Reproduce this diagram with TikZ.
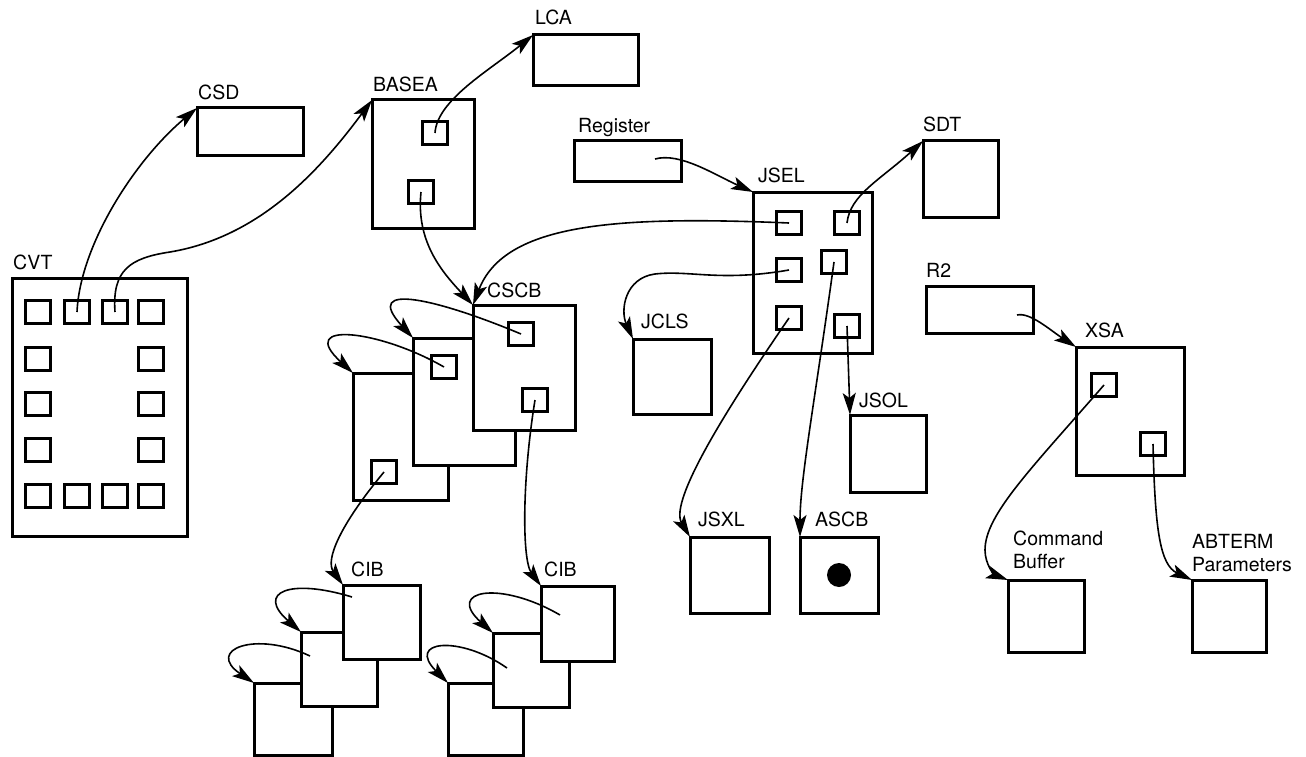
\documentclass[tikz,border=0pt]{standalone}
\usepackage{fontspec}
\setmainfont{TeX Gyre Heros}
\usepackage{tikz}
\usetikzlibrary{arrows.meta,positioning}

\begin{document}
\begin{tikzpicture}[x=1pt, y=-1pt, every node/.style={font=\fontsize{19.5}{23}\selectfont}]
\tikzset{blk/.style={draw, line width=3pt, fill=white, inner sep=0pt, outer sep=0pt, anchor=north west}}
\tikzset{slot/.style={draw, line width=2.7pt, fill=white, inner sep=0pt, outer sep=0pt, minimum width=25pt, minimum height=23pt}}
\tikzset{tag/.style={inner sep=0pt, text depth=0pt, align=left}}
\tikzset{ptr/.style={line width=1.6pt, -{Stealth[length=22pt, width=13pt, inset=5pt]}}}
\useasboundingbox (0,0) rectangle (1306,757);
% CVT
\node[blk, minimum width=175pt, minimum height=258pt] (cvt) at (12,278) {};
\node[tag, above right=8pt and 1pt of cvt.north west] (cvt-t) {CVT};
\node[slot] (cvt-1) at (38,312) {};
\node[slot] (cvt-2) at (77,312) {};
\node[slot] (cvt-3) at (115,312) {};
\node[slot] (cvt-4) at (151,312) {};
\node[slot] (cvt-5) at (38,359) {};
\node[slot] (cvt-6) at (151,359) {};
\node[slot] (cvt-7) at (38,404) {};
\node[slot] (cvt-8) at (151,404) {};
\node[slot] (cvt-9) at (38,450) {};
\node[slot] (cvt-10) at (151,450) {};
\node[slot] (cvt-11) at (38,496) {};
\node[slot] (cvt-12) at (77,496) {};
\node[slot] (cvt-13) at (115,496) {};
\node[slot] (cvt-14) at (151,496) {};
% top row
\node[blk, minimum width=106pt, minimum height=47pt] (csd) at (197,108) {};
\node[tag, above right=8pt and 1pt of csd.north west] (csd-t) {CSD};
\node[blk, minimum width=102pt, minimum height=128pt] (basea) at (372,100) {};
\node[tag, above right=8pt and 1pt of basea.north west] (basea-t) {BASEA};
\node[slot] (basea-1) at (435,133) {};
\node[slot] (basea-2) at (421,192) {};
\node[blk, minimum width=105pt, minimum height=51pt] (lca) at (533,35) {};
\node[tag, above right=10pt and 2pt of lca.north west] (lca-t) {LCA};
\node[blk, minimum width=107pt, minimum height=40pt] (reg) at (574,141) {};
\node[tag, above right=8pt and 4pt of reg.north west] (reg-t) {Register};
\coordinate (reg-p) at (655,159);
\node[blk, minimum width=75pt, minimum height=76pt] (sdt) at (923,141) {};
\node[tag, above right=9pt and 0pt of sdt.north west] (sdt-t) {SDT};
% JSEL
\node[blk, minimum width=119pt, minimum height=161pt] (jsel) at (753,192) {};
\node[tag, above right=9pt and 5pt of jsel.north west] (jsel-t) {JSEL};
\node[slot] (jsel-1) at (789,223) {};
\node[slot] (jsel-2) at (847,223) {};
\node[slot] (jsel-3) at (789,270) {};
\node[slot] (jsel-4) at (834,262) {};
\node[slot] (jsel-5) at (789,318) {};
\node[slot] (jsel-6) at (847,326) {};
\node[blk, minimum width=78pt, minimum height=75pt] (jcls) at (633,339) {};
\node[tag, above right=10pt and 8pt of jcls.north west] (jcls-t) {JCLS};
\node[blk, minimum width=76pt, minimum height=77pt] (jsol) at (850,415) {};
\node[tag, above right=7pt and 9pt of jsol.north west] (jsol-t) {JSOL};
\node[blk, minimum width=79pt, minimum height=76pt] (jsxl) at (690,537) {};
\node[tag, above right=10pt and 8pt of jsxl.north west] (jsxl-t) {JSXL};
\node[blk, minimum width=78pt, minimum height=76pt] (ascb) at (800,537) {};
\node[tag, above right=10pt and 15pt of ascb.north west] (ascb-t) {ASCB};
\node[fill, circle, inner sep=0pt, minimum size=24pt] (ascb-d) at (ascb.center) {};
% R2 / XSA
\node[blk, minimum width=107pt, minimum height=47pt] (r2) at (926,286) {};
\node[tag, above right=8pt and 0pt of r2.north west] (r2-t) {R2};
\coordinate (r2-p) at (1017,315);
\node[blk, minimum width=108pt, minimum height=128pt] (xsa) at (1076,347) {};
\node[tag, above right=9pt and 9pt of xsa.north west] (xsa-t) {XSA};
\node[slot] (xsa-1) at (1104,385) {};
\node[slot] (xsa-2) at (1153,444) {};
\node[blk, minimum width=76pt, minimum height=72pt] (cmd) at (1008,580) {};
\node[tag, above right=11pt and 5pt of cmd.north west] (cmd-t) {Command\\Buffer};
\node[blk, minimum width=74pt, minimum height=72pt] (abt) at (1192,580) {};
\node[tag, above right=8pt and 0pt of abt.north west] (abt-t) {ABTERM\\Parameters};
% CSCB stack
\node[blk, minimum width=95pt, minimum height=127pt] (cscb-c) at (353,373) {};
\node[slot] (cscb-c1) at (384,472) {};
\node[blk, minimum width=102pt, minimum height=127pt] (cscb-b) at (413,338) {};
\node[slot] (cscb-b1) at (444,367) {};
\node[blk, minimum width=102pt, minimum height=125pt] (cscb) at (473,305) {};
\node[tag, above right=7pt and 14pt of cscb.north west] (cscb-t) {CSCB};
\node[slot] (cscb-1) at (521,334) {};
\node[slot] (cscb-2) at (535,400) {};
% CIB stacks
\node[blk, minimum width=78pt, minimum height=72pt] (cibl-3) at (254,683) {};
\node[blk, minimum width=76pt, minimum height=74pt] (cibl-2) at (301,632) {};
\node[blk, minimum width=77pt, minimum height=74pt] (cibl-1) at (343,585) {};
\node[tag, above right=8pt and 8pt of cibl-1.north west] (cibl-t) {CIB};
\coordinate (cibl-p1) at (352,597);
\coordinate (cibl-p2) at (310,656);
\node[blk, minimum width=75pt, minimum height=72pt] (cibr-3) at (448,683) {};
\node[blk, minimum width=76pt, minimum height=74pt] (cibr-2) at (493,633) {};
\node[blk, minimum width=73pt, minimum height=75pt] (cibr-1) at (541,586) {};
\node[tag, above right=9pt and 3pt of cibr-1.north west] (cibr-t) {CIB};
\coordinate (cibr-p1) at (560,615);
\coordinate (cibr-p2) at (507,668);
% pointers
\draw[ptr] (cvt-2.center) .. controls (80,245) and (135,160) .. (csd.north west);
\draw[ptr] (cvt-3.center) .. controls (112,270) and (130,258) .. (170,252) .. controls (260,237) and (320,170) .. (basea.north west);
\draw[ptr] (basea-1.center) .. controls (437,100) and (490,70) .. (lca.north west);
\draw[ptr] (basea-2.center) .. controls (416,240) and (440,270) .. (cscb.north west);
\draw[ptr] (jsel-1.center) .. controls (620,216) and (505,222) .. (cscb.north west);
\draw[ptr] (reg-p) .. controls (680,152) and (715,175) .. (jsel.north west);
\draw[ptr] (jsel-2.center) .. controls (850,195) and (880,180) .. (sdt.north west);
\draw[ptr] (jsel-3.center) .. controls (720,282) and (690,270) .. (655,274) .. controls (625,278) and (620,310) .. (jcls.north west);
\draw[ptr] (jsel-5.center) .. controls (734,398) and (668,500) .. (jsxl.north west);
\draw[ptr] (jsel-4.center) .. controls (815,400) and (800,480) .. (ascb.north west);
\draw[ptr] (jsel-6.center) -- (jsol.north west);
\draw[ptr] (r2-p) .. controls (1030,312) and (1050,330) .. (xsa.north west);
\draw[ptr] (xsa-1.center) .. controls (1030,470) and (985,515) .. (985,550) .. controls (985,565) and (995,575) .. (cmd.north west);
\draw[ptr] (xsa-2.center) .. controls (1155,530) and (1160,565) .. (abt.north west);
\draw[ptr] (cscb-2.center) .. controls (522,480) and (522,560) .. (cibr-1.north west);
\draw[ptr] (cscb-c1.center) .. controls (340,525) and (325,560) .. (cibl-1.north west);
% chains
\draw[ptr] (cscb-1.center) .. controls (440,300) and (360,280) .. (cscb-b.north west);
\draw[ptr] (cscb-b1.center) .. controls (380,330) and (295,320) .. (cscb-c.north west);
\draw[ptr] (cibl-p1) .. controls (290,578) and (255,592) .. (cibl-2.north west);
\draw[ptr] (cibl-p2) .. controls (255,630) and (205,650) .. (cibl-3.north west);
\draw[ptr] (cibr-p1) .. controls (500,580) and (445,590) .. (cibr-2.north west);
\draw[ptr] (cibr-p2) .. controls (460,635) and (405,640) .. (cibr-3.north west);
\end{tikzpicture}
\end{document}
